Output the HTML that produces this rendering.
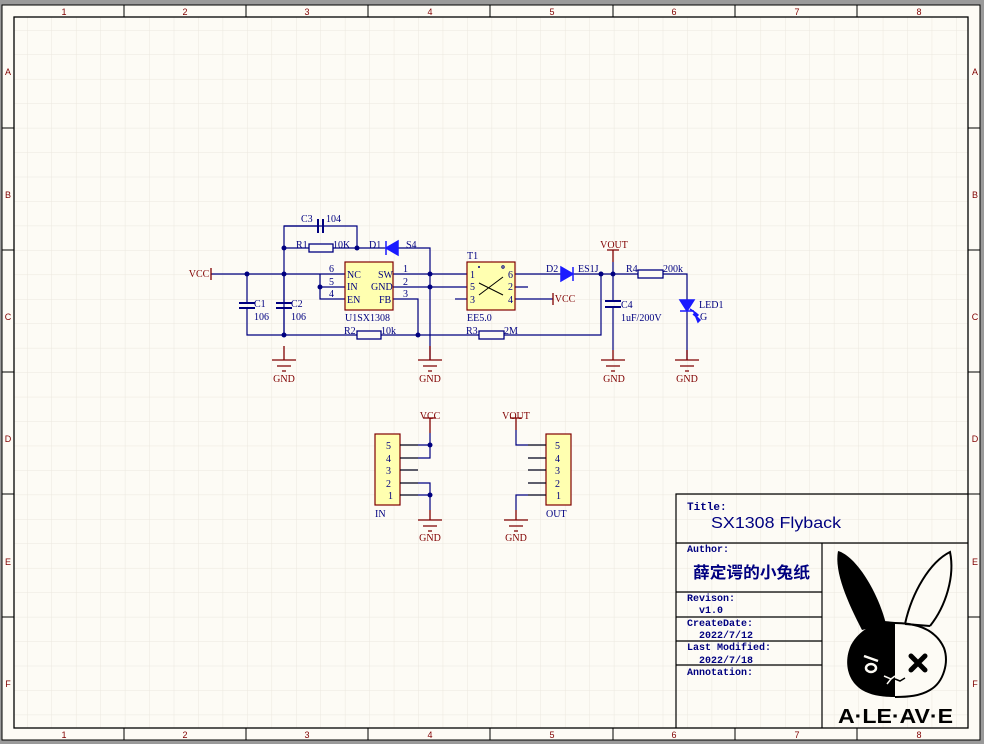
<!DOCTYPE html>
<html><head><meta charset="utf-8"><style>
html,body{margin:0;padding:0;background:#9a9a9a;}
svg{display:block}
.t{font-family:"Liberation Serif",serif;font-size:10px;fill:#000080}
.r{font-family:"Liberation Serif",serif;font-size:10px;fill:#800000}
.m{font-family:"Liberation Mono","DejaVu Sans Mono",monospace;font-weight:bold;fill:#000080}
.b{font-family:"Liberation Sans",sans-serif;font-size:9px;fill:#800000}
</style></head><body>
<svg width="984" height="744" viewBox="0 0 984 744" xmlns="http://www.w3.org/2000/svg">
<defs>
<pattern id="g" x="2.6" y="5.6" width="24.45" height="24.45" patternUnits="userSpaceOnUse">
<path d="M0 0H24.45M0 0V24.45" stroke="#ebe7de" stroke-width="1" fill="none"/>
</pattern>
</defs>
<rect x="0" y="0" width="984" height="744" fill="#9a9a9a"/>
<rect x="2" y="5" width="978" height="735" fill="#fdfbf5" stroke="#000" stroke-width="1"/>
<rect x="14" y="17" width="954" height="711" fill="url(#g)" stroke="#000" stroke-width="1.3"/>
<g stroke="#000" stroke-width="1">
<path d="M124 5V17M246 5V17M368 5V17M490 5V17M613 5V17M735 5V17M857 5V17"/>
<path d="M124 728V740M246 728V740M368 728V740M490 728V740M613 728V740M735 728V740M857 728V740"/>
<path d="M2 128H14M2 250H14M2 372H14M2 494H14M2 617H14"/>
<path d="M968 128H980M968 250H980M968 372H980M968 494H980M968 617H980"/>
</g>
<g class="b" text-anchor="middle">
<text x="64" y="15">1</text><text x="185" y="15">2</text><text x="307" y="15">3</text><text x="430" y="15">4</text><text x="552" y="15">5</text><text x="674" y="15">6</text><text x="797" y="15">7</text><text x="919" y="15">8</text>
<text x="64" y="738">1</text><text x="185" y="738">2</text><text x="307" y="738">3</text><text x="430" y="738">4</text><text x="552" y="738">5</text><text x="674" y="738">6</text><text x="797" y="738">7</text><text x="919" y="738">8</text>
<text x="8" y="75">A</text><text x="8" y="198">B</text><text x="8" y="320">C</text><text x="8" y="442">D</text><text x="8" y="565">E</text><text x="8" y="687">F</text>
<text x="975" y="75">A</text><text x="975" y="198">B</text><text x="975" y="320">C</text><text x="975" y="442">D</text><text x="975" y="565">E</text><text x="975" y="687">F</text>
</g>

<g stroke="#000080" stroke-width="1.2" fill="none">
<path d="M211 274H345"/>
<path d="M284 226H357V248"/>
<path d="M318 226H284V335"/>
<path d="M284 248H309M333 248H386M398 248H430V360"/>
<path d="M320 274V299H345M320 287H345"/>
<path d="M393 274H467M393 287H467M393 299H418V335"/>
<path d="M455 299H467"/>
<path d="M247 274V303M247 308V335H357M381 335H479M504 335H601V274"/>
<path d="M284 274V303M284 308V335"/>
<path d="M515 274H561M573 274H638M663 274H687V300M687 311V360"/>
<path d="M515 287H528M515 299H553"/>
<path d="M613 262V300M613 306V350"/>
<path d="M400 445H430V458H400M400 470H418M400 483H430V495H400M430 433V445M430 495V510"/>
<path d="M516 430V445H546M528 458H546M528 470H546M528 483H546M516 510V495H546"/>
</g>
<g stroke="#000080" stroke-width="2">
<path d="M239 303H255M239 308H255M276 303H292M276 308H292M605 301H621M605 307H621M318 219V233M323 219V233"/>
</g>
<g stroke="#000080" stroke-width="1.3" fill="#fdfbf5">
<rect x="309" y="244" width="24" height="8"/><rect x="357" y="331" width="24" height="8"/>
<rect x="479" y="331" width="25" height="8"/><rect x="638" y="270" width="25" height="8"/>
</g>
<g fill="#1a1aff" stroke="#1a1aff" stroke-width="1.5">
<path d="M386 248L398 241V255Z"/><path d="M386 241V255"/>
<path d="M561 267V281L573 274Z"/><path d="M573 267V281"/>
<path d="M680 300H694L687 311Z"/><path d="M680 311H694"/>
<path d="M690 309L697 314M693 314L699 319" fill="none"/>
<path d="M698 315L694 312L696 317ZM700 320L696 317L698 322Z"/>
</g>
<g fill="#000080">
<circle cx="247" cy="274" r="2.5"/><circle cx="284" cy="274" r="2.5"/><circle cx="284" cy="248" r="2.5"/>
<circle cx="357" cy="248" r="2.5"/><circle cx="320" cy="287" r="2.5"/><circle cx="430" cy="274" r="2.5"/>
<circle cx="430" cy="287" r="2.5"/><circle cx="418" cy="335" r="2.5"/><circle cx="284" cy="335" r="2.5"/>
<circle cx="601" cy="274" r="2.5"/><circle cx="613" cy="274" r="2.5"/>
<circle cx="430" cy="445" r="2.5"/><circle cx="430" cy="495" r="2.5"/>
</g>
<g fill="#ffffb0" stroke="#800000" stroke-width="1.2">
<rect x="345" y="262" width="48" height="48"/><rect x="467" y="262" width="48" height="48"/>
<rect x="375" y="434" width="25" height="71"/><rect x="546" y="434" width="25" height="71"/>
</g>
<path d="M479 283L503 295M479 295L503 277" stroke="#000" stroke-width="1"/>
<circle cx="479" cy="267" r="1" fill="#000080"/><circle cx="503" cy="267" r="1.2" fill="none" stroke="#000080"/>
<g stroke="#000" stroke-width="1">
<path d="M400 445H418M400 458H418M400 470H418M400 483H418M400 495H418"/>
<path d="M528 445H546M528 458H546M528 470H546M528 483H546M528 495H546"/>
</g>
<g stroke="#800000" stroke-width="1.3" fill="none">
<path d="M211 268V280M553 293V305M613 250V262M607 250H619M430 418V433M424 418H436M516 418V430M510 418H522"/>
<path d="M284 346V360M272 360H296M277 366H291M282 371H286"/>
<path d="M430 346V360M418 360H442M423 366H437M428 371H432"/>
<path d="M613 350V360M601 360H625M606 366H620M611 371H615"/>
<path d="M687 350V360M675 360H699M680 366H694M685 371H689"/>
<path d="M430 510V520M418 520H442M423 526H437M428 531H432"/>
<path d="M516 510V520M504 520H528M509 526H523M514 531H518"/>
</g>
<g class="r" text-anchor="middle">
<text x="199" y="277">VCC</text><text x="565" y="302">VCC</text><text x="614" y="248">VOUT</text>
<text x="430" y="419">VCC</text><text x="516" y="419">VOUT</text>
<text x="284" y="382">GND</text><text x="430" y="382">GND</text><text x="614" y="382">GND</text><text x="687" y="382">GND</text>
<text x="430" y="541">GND</text><text x="516" y="541">GND</text>
</g>
<g class="t">
<text x="301" y="222">C3</text><text x="326" y="222">104</text>
<text x="296" y="248">R1</text><text x="333" y="248">10K</text>
<text x="369" y="248">D1</text><text x="406" y="248">S4</text>
<text x="347" y="278">NC</text><text x="347" y="290">IN</text><text x="347" y="303">EN</text>
<text x="378" y="278">SW</text><text x="371" y="290">GND</text><text x="379" y="303">FB</text>
<text x="329" y="272">6</text><text x="329" y="285">5</text><text x="329" y="297">4</text>
<text x="403" y="272">1</text><text x="403" y="285">2</text><text x="403" y="297">3</text>
<text x="345" y="321">U1SX1308</text>
<text x="344" y="334">R2</text><text x="381" y="334">10k</text>
<text x="254" y="307">C1</text><text x="254" y="320">106</text>
<text x="291" y="307">C2</text><text x="291" y="320">106</text>
<text x="467" y="259">T1</text><text x="467" y="321">EE5.0</text>
<text x="470" y="278">1</text><text x="470" y="290">5</text><text x="470" y="303">3</text>
<text x="508" y="278">6</text><text x="508" y="290">2</text><text x="508" y="303">4</text>
<text x="466" y="334">R3</text><text x="504" y="334">2M</text>
<text x="546" y="272">D2</text><text x="578" y="272">ES1J</text>
<text x="626" y="272">R4</text><text x="663" y="272">200k</text>
<text x="621" y="308">C4</text><text x="621" y="321">1uF/200V</text>
<text x="699" y="308">LED1</text><text x="700" y="320">G</text>
<text x="386" y="449">5</text><text x="386" y="462">4</text><text x="386" y="474">3</text><text x="386" y="487">2</text><text x="388" y="499">1</text>
<text x="555" y="449">5</text><text x="555" y="462">4</text><text x="555" y="474">3</text><text x="555" y="487">2</text><text x="556" y="499">1</text>
<text x="375" y="517">IN</text><text x="546" y="517">OUT</text>
</g>

<g stroke="#000" stroke-width="1.2" fill="none">
<path d="M676 728V494H968M676 543H968M822 543V728M676 592H822M676 617H822M676 641H822M676 665H822"/>
</g>
<g class="m" font-size="10">
<text x="687" y="510" font-size="11">Title:</text>
<text x="687" y="552">Author:</text>
<text x="687" y="601">Revison:</text><text x="699" y="613">v1.0</text>
<text x="687" y="626">CreateDate:</text><text x="699" y="638">2022/7/12</text>
<text x="687" y="650">Last Modified:</text><text x="699" y="663">2022/7/18</text>
<text x="687" y="675">Annotation:</text>
</g>
<text x="711" y="528" font-family="'Liberation Sans',sans-serif" font-size="16" fill="#000080" textLength="130" lengthAdjust="spacingAndGlyphs">SX1308 Flyback</text>
<text x="693" y="578" font-family="'Liberation Sans','Noto Sans CJK SC',sans-serif" font-size="16" font-weight="bold" fill="#000080" textLength="117" lengthAdjust="spacingAndGlyphs">薛定谔的小兔纸</text>

<g>
<path d="M862 630C848 603 834 572 838 551C856 556 878 592 886 624Z" fill="#000"/>
<path d="M905 624C912 592 930 562 950 552C955 576 946 606 930 626" fill="#fdfbf5" stroke="#000" stroke-width="2"/>
<path d="M895 623C915 623 935 628 944 648C949 662 944 682 930 690C920 696 908 697 895 697" fill="#fdfbf5" stroke="#000" stroke-width="2"/>
<path d="M930 626L905 624" stroke="#000" stroke-width="2"/>
<path d="M895 622L884 621C870 625 858 632 851 645C844 660 846 680 862 690C872 696 884 697 895 697Z" fill="#000"/>
<path d="M864 656L878 661M866 668a5 4 0 1 0 10 0a5 4 0 1 0 -10 0" stroke="#fdfbf5" stroke-width="2.5" fill="none"/>
<path d="M911 656L925 670M925 656L911 670" stroke="#000" stroke-width="5" stroke-linecap="round"/>
<path d="M884 676L891 679L895 676M891 679L887 684" stroke="#fdfbf5" stroke-width="1.5" fill="none"/>
<path d="M895 679L900 681L905 678" stroke="#000" stroke-width="1.5" fill="none"/>
<text x="838" y="723" font-family="'Liberation Sans',sans-serif" font-size="20" font-weight="bold" fill="#000" textLength="115" lengthAdjust="spacingAndGlyphs">A·LE·AV·E</text>
</g>
</svg>
</body></html>
